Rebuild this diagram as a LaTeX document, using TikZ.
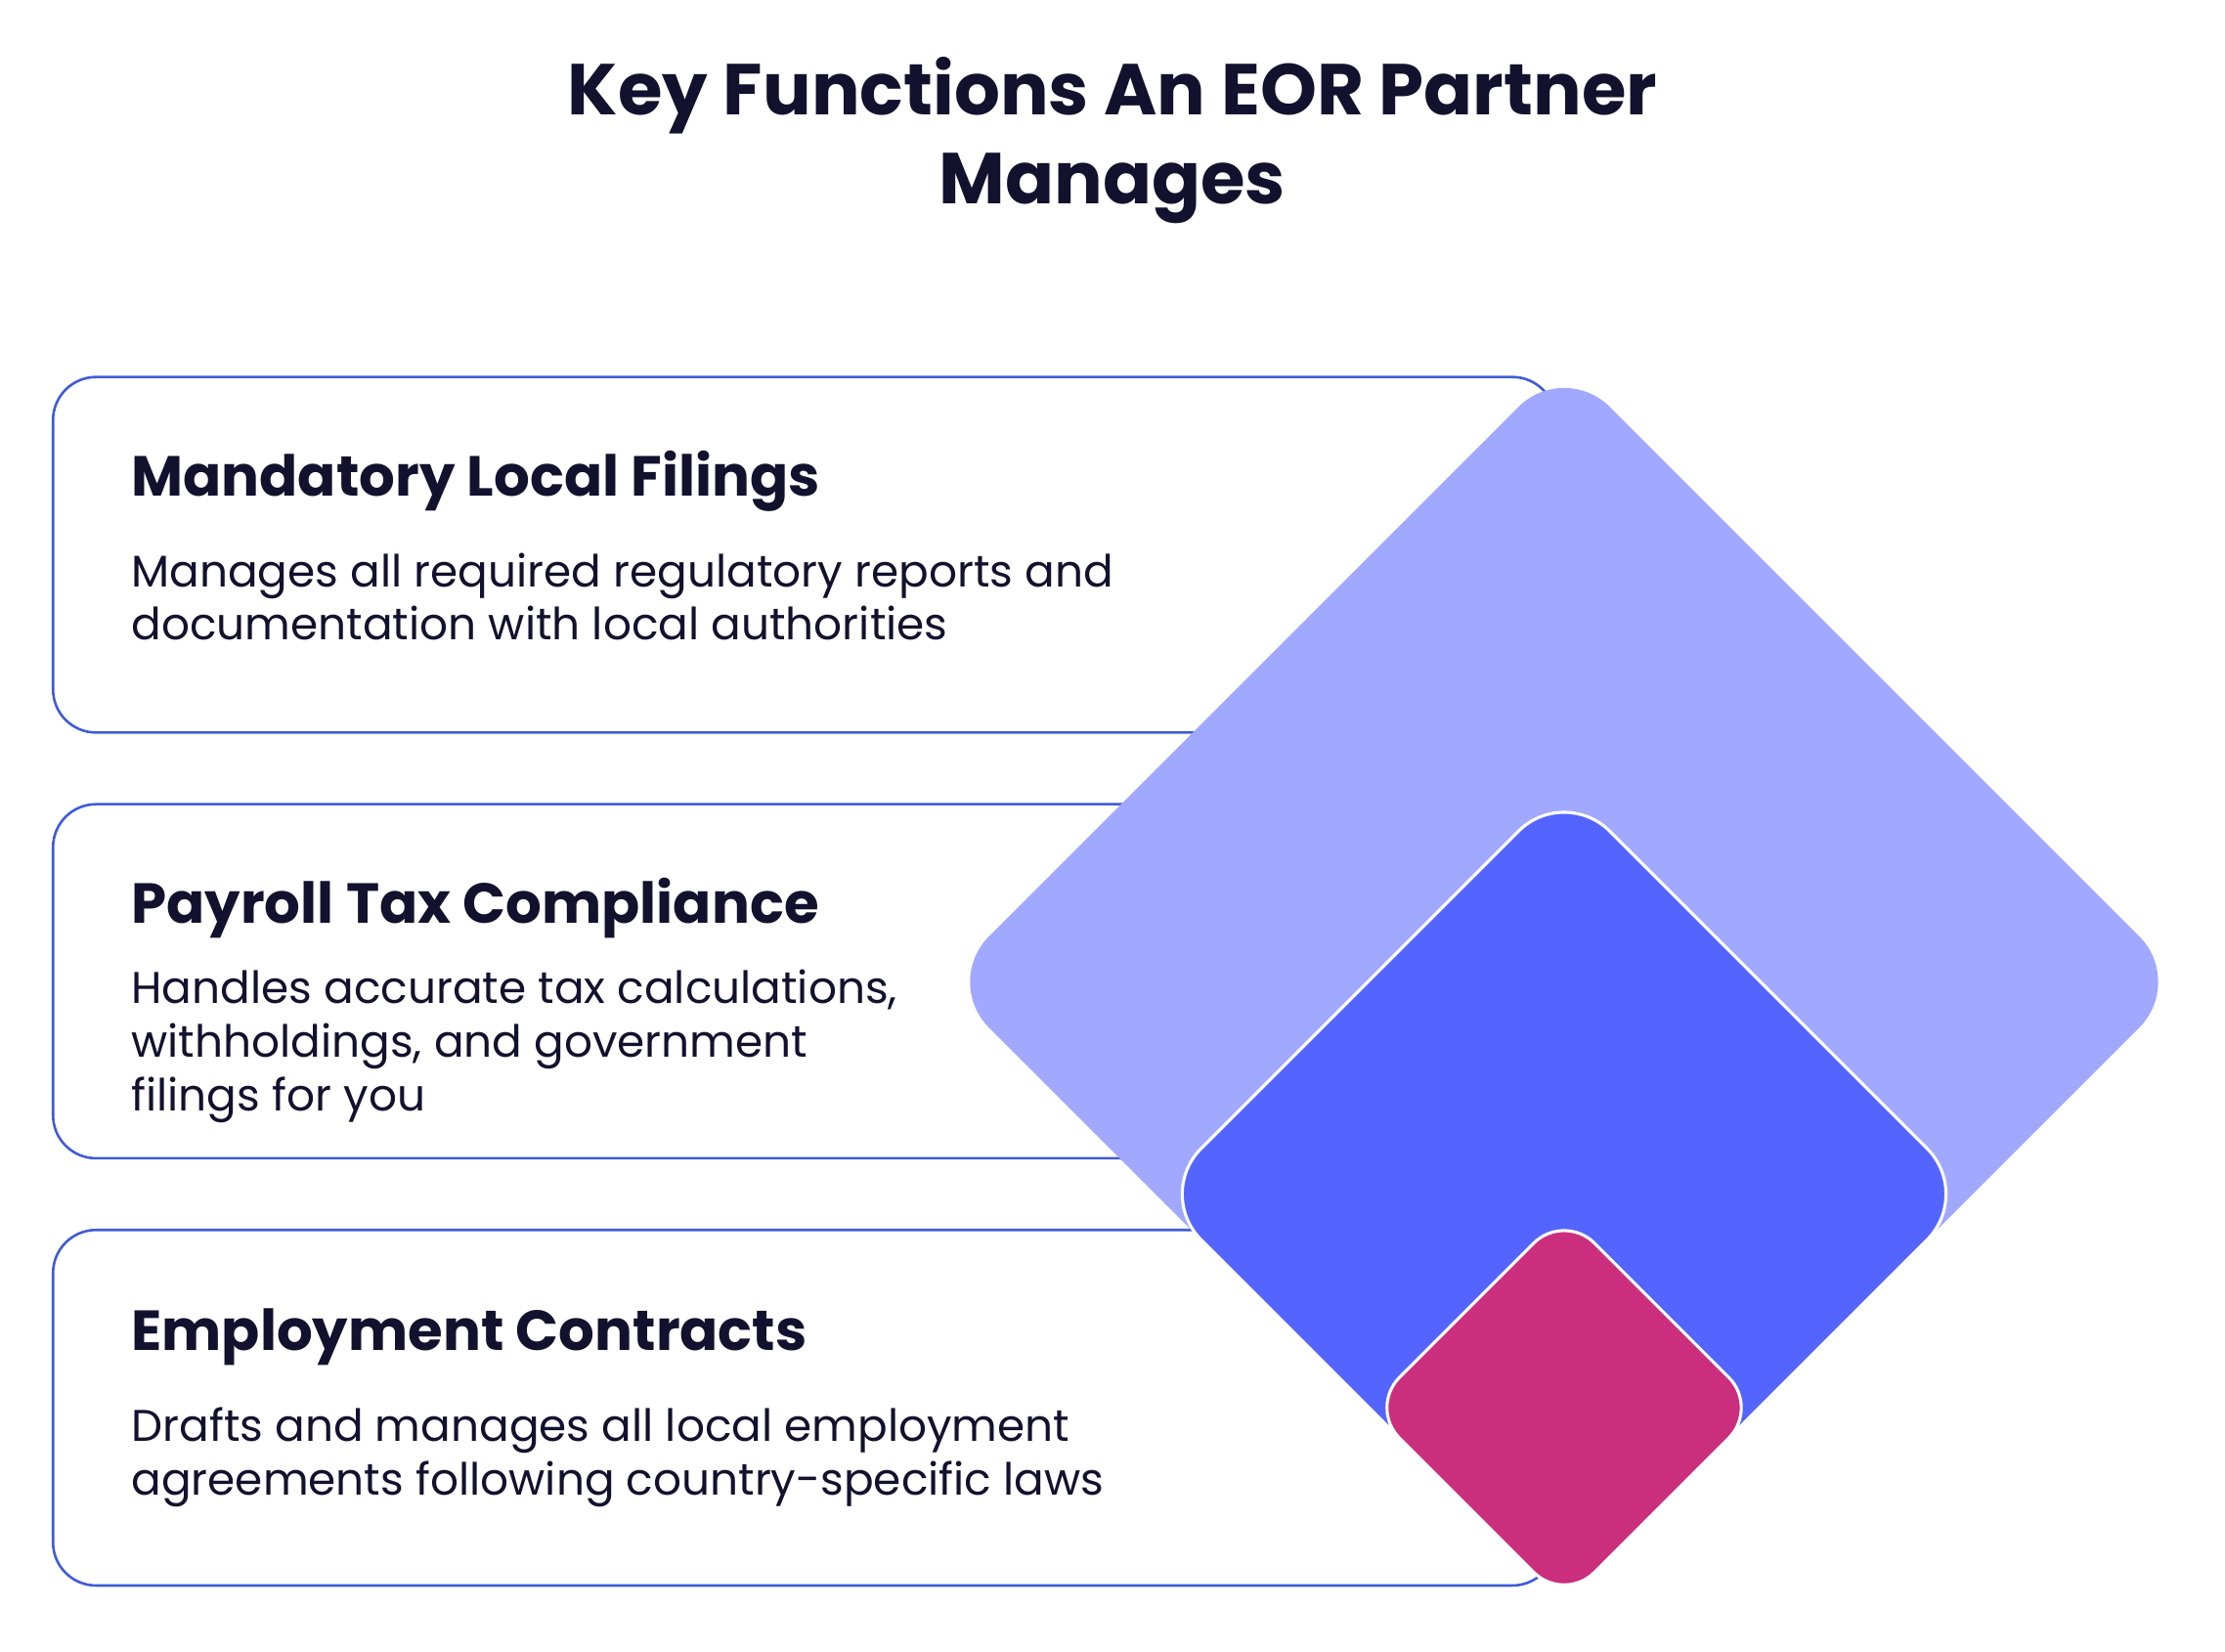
\documentclass[tikz,border=0pt]{standalone}
\usepackage{fontspec}
\setmainfont{Poppins}
\definecolor{txt}{HTML}{12122E}
\definecolor{bord}{HTML}{3F5BD8}
\definecolor{dA}{HTML}{A1A8FF}
\definecolor{dB}{HTML}{5465FF}
\definecolor{dC}{HTML}{CC2E7E}
\begin{document}
\begin{tikzpicture}[x=0.01cm,y=-0.01cm,
  card/.style={draw=bord,line width=0.5pt,rounded corners=0.3cm,fill=white},
  head/.style={anchor=base west,font=\fontsize{11.2}{13}\selectfont\bfseries,text=txt,inner sep=0},
  body/.style={anchor=north west,align=left,font=\fontsize{8.8}{10.6}\selectfont,text=txt,inner sep=0},
  dia/.style={rounded corners=0.45cm},
  ]
\useasboundingbox (0,0) rectangle (1552,1152);
\node[font=\fontsize{14.3}{17.5}\selectfont\bfseries,text=txt,align=center] (title) at (776,98) {Key Functions An EOR Partner\\Manages};
\draw[card] (37,263) rectangle (1085,511);
\draw[card] (37,561) rectangle (1085,808);
\draw[card] (37,858) rectangle (1085,1106);
\node[head] (h1) at (91,346) {Mandatory Local Filings};
\node[body] (b1) at (91,385) {Manages all required regulatory reports and\\documentation with local authorities};
\node[head] (h2) at (91,644) {Payroll Tax Compliance};
\node[body] (b2) at (91,676) {Handles accurate tax calculations,\\withholdings, and government\\filings for you};
\node[head] (h3) at (91,942) {Employment Contracts};
\node[body] (b3) at (91,981) {Drafts and manages all local employment\\agreements following country-specific laws};
\fill[dA,dia] (1091,252) -- (1524,685) -- (1091,1118) -- (658,685) -- cycle;
\draw[white,line width=0.6pt,fill=dB,dia] (1091,548) -- (1376,833) -- (1091,1118) -- (806,833) -- cycle;
\draw[white,line width=0.6pt,fill=dC,rounded corners=0.3cm] (1091,846) -- (1227,982) -- (1091,1118) -- (955,982) -- cycle;
\end{tikzpicture}
\end{document}
